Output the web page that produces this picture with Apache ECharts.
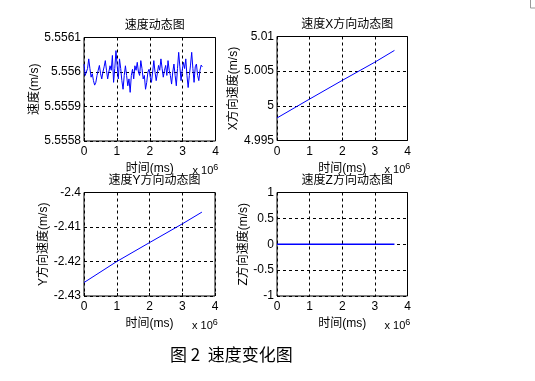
<!DOCTYPE html>
<html>
<head>
<meta charset="utf-8">
<script src="https://cdn.jsdelivr.net/npm/echarts@6/dist/echarts.min.js"></script>
<style>
html,body{margin:0;padding:0;background:#fff;}
#c{width:535px;height:381px;}
</style>
</head>
<body>
<div id="c"></div>
<script>
// ---- data ----
var titles = ['速度动态图', '速度X方向动态图', '速度Y方向动态图', '速度Z方向动态图'];
var yNames = ['速度(m/s)', 'X方向速度(m/s)', 'Y方向速度(m/s)', 'Z方向速度(m/s)'];
var xName = '时间(ms)';
var caption = '图 2  速度变化图';
var xTicks = [0, 1, 2, 3, 4]; // x 10^6 ms
var speedBase = 5.5560;
var sampleStepMs = 36000;
// speed deviations from base, units of 1e-5 m/s
var speedDev = [2.3,-1.0,-1.5,1.0,3.8,1.0,-1.5,-0.5,-2.5,-3.8,-3.0,-1.0,0.5,1.9,-0.5,-2.0,0.0,1.5,3.3,0.5,
  -2.0,0.0,1.8,0.5,4.8,-3.0,1.0,6.2,2.0,-2.0,3.8,1.0,-2.5,-5.0,-1.0,1.8,-1.0,-4.0,-2.0,-5.9,
  -1.0,0.8,-2.0,1.8,0.5,2.8,0.0,-1.0,3.3,1.0,-2.0,-1.0,-5.0,-3.0,0.0,0.8,-1.5,-3.0,0.0,3.3,
  0.0,-2.5,-2.0,1.9,0.5,3.8,1.0,-1.5,0.5,1.9,-1.0,3.3,0.5,-1.0,-3.5,0.0,2.3,-1.0,-4.0,1.0,
  5.7,1.5,-2.5,0.5,2.8,1.0,3.8,-1.0,-4.5,-1.0,2.0,5.7,1.0,-3.0,1.5,2.3,-1.0,-2.5,0.5,2.0,1.5];
var lineTimeMs = [0, 1000000, 2000000, 3000000, 3600000];
var speedX = [4.99825, 5.00098, 5.00367, 5.0063, 5.00799];
var speedY = [-2.4261, -2.4200, -2.41452, -2.4091, -2.40569];
var speedZ = [0, 0, 0, 0, 0];
var yRanges = [[5.5558, 5.5561, 0.0001], [4.995, 5.01, 0.005], [-2.43, -2.4, 0.01], [-1, 1, 0.5]];

// ---- build ----
var noisePts = speedDev.map(function (d, i) { return [i * sampleStepMs, +(speedBase + d * 1e-5).toFixed(7)]; });
function pairs(xs, ys) { return xs.map(function (x, i) { return [x, ys[i]]; }); }
var seriesData = [noisePts, pairs(lineTimeMs, speedX), pairs(lineTimeMs, speedY), pairs(lineTimeMs, speedZ)];

var grids = [
  {left: 84, top: 37.5, width: 131.5, height: 103.5},
  {left: 277, top: 36.5, width: 130.5, height: 104},
  {left: 84, top: 192.5, width: 131, height: 103.5},
  {left: 277, top: 192.5, width: 130.5, height: 103.5}
];
var nameGaps = [38, 33, 30, 27];
var txtFont = 'Liberation Sans, Arial, sans-serif';
var cjkFont = 'Liberation Sans, Noto Sans CJK SC, sans-serif';
var decs = [4, 3, 2, 1];
var option = {
  animation: false,
  backgroundColor: '#fff',
  title: [], grid: [], xAxis: [], yAxis: [], series: [], graphic: []
};
grids.forEach(function (g, k) {
  option.grid.push({left: g.left, top: g.top, width: g.width, height: g.height, show: true,
    borderColor: '#000', borderWidth: 1, backgroundColor: 'transparent', containLabel: false});
  option.title.push({text: titles[k], left: g.left + g.width / 2, top: g.top - 23, textAlign: 'center',
    textStyle: {fontSize: 12, fontWeight: 'normal', color: '#000', fontFamily: cjkFont}});
  var split = {show: true, lineStyle: {color: '#000', type: [3, 3], width: 1}};
  option.xAxis.push({gridIndex: k, type: 'value', min: 0, max: 4000000, interval: 1000000,
    name: xName, nameLocation: 'middle', nameGap: 22,
    nameTextStyle: {fontSize: 12, color: '#000', fontFamily: cjkFont},
    axisLine: {show: false}, axisTick: {show: true, inside: true, length: 3, lineStyle: {color: '#000'}},
    axisLabel: {fontSize: 12, color: '#000', margin: 5, fontFamily: txtFont,
      formatter: function (v) { return String(xTicks[Math.round(v / 1000000)]); }},
    splitLine: split});
  var r = yRanges[k];
  option.yAxis.push({gridIndex: k, type: 'value', min: r[0], max: r[1], interval: r[2],
    name: yNames[k], nameLocation: 'middle', nameGap: nameGaps[k], nameRotate: 90,
    nameTextStyle: {fontSize: 12, color: '#000', fontFamily: cjkFont},
    axisLine: {show: false}, axisTick: {show: true, inside: true, length: 3, lineStyle: {color: '#000'}},
    axisLabel: {fontSize: 12, color: '#000', margin: 3, fontFamily: txtFont,
      formatter: function (v) { return String(+v.toFixed(decs[k])); }},
    splitLine: split});
  option.series.push({type: 'line', xAxisIndex: k, yAxisIndex: k, data: seriesData[k], showSymbol: false,
    lineStyle: {color: '#0000ff', width: k === 3 ? 1.5 : 1}, z: 5});
  option.graphic.push({type: 'text', left: g.left + g.width - 23, top: g.top + g.height + 22,
    style: {text: 'x 10{s|6}', rich: {s: {fontSize: 9, verticalAlign: 'top', padding: [0,0,6,0]}},
      fontSize: 11, fill: '#000', fontFamily: txtFont}});
});
option.graphic.push({type: 'text', left: 170, top: 346,
  style: {text: caption, fontSize: 17, fill: '#000', fontFamily: 'Noto Sans CJK SC, sans-serif'}});
option.graphic.push({type: 'polyline', shape: {points: [[530.5, 0], [530.5, 8], [535, 8]]},
  style: {stroke: '#999', lineWidth: 1, fill: null}});
var chart = echarts.init(document.getElementById('c'), null, {renderer: 'canvas'});
chart.setOption(option);
</script>
</body>
</html>
